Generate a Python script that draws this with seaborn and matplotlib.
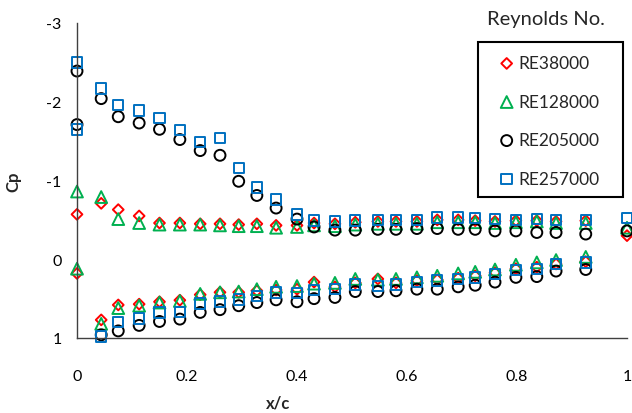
import matplotlib
matplotlib.use("Agg")
import matplotlib.pyplot as plt
import matplotlib.patches as mpatches
import seaborn as sns
import pandas as pd
from matplotlib.ticker import FixedLocator, FuncFormatter

# Pressure tap chord positions (upper surface includes trailing edge tap)
x_upper = [0.0, 0.044, 0.075, 0.113, 0.150, 0.187, 0.224, 0.260, 0.294, 0.327,
           0.362, 0.400, 0.431, 0.469, 0.506, 0.547, 0.580, 0.618, 0.655, 0.693,
           0.724, 0.760, 0.798, 0.836, 0.871, 0.925, 1.0]
x_lower = [0.0, 0.044, 0.075, 0.113, 0.150, 0.187, 0.224, 0.260, 0.294, 0.327,
           0.362, 0.400, 0.431, 0.469, 0.506, 0.547, 0.580, 0.618, 0.655, 0.693,
           0.724, 0.760, 0.798, 0.836, 0.871, 0.925]

series = ["RE38000", "RE128000", "RE205000", "RE257000"]

cp_upper = {
    "RE38000": [-0.57, -0.71, -0.63, -0.55, -0.46, -0.46, -0.45, -0.45, -0.44, -0.45,
                -0.43, -0.43, -0.46, -0.45, -0.47, -0.48, -0.48, -0.48, -0.50, -0.50,
                -0.49, -0.48, -0.49, -0.49, -0.48, -0.49, -0.30],
    "RE128000": [-0.86, -0.79, -0.51, -0.46, -0.44, -0.44, -0.44, -0.43, -0.42, -0.42,
                 -0.40, -0.41, -0.43, -0.42, -0.44, -0.45, -0.45, -0.45, -0.47, -0.47,
                 -0.47, -0.46, -0.47, -0.48, -0.46, -0.46, -0.40],
    "RE205000": [-2.39, -2.04, -1.81, -1.73, -1.65, -1.52, -1.38, -1.32, -0.99, -0.81,
                 -0.65, -0.51, -0.41, -0.37, -0.37, -0.38, -0.38, -0.39, -0.39, -0.38,
                 -0.38, -0.36, -0.36, -0.34, -0.34, -0.32, -0.36],
    "RE257000": [-2.50, -2.17, -1.96, -1.89, -1.79, -1.64, -1.49, -1.54, -1.16, -0.91,
                 -0.76, -0.57, -0.49, -0.48, -0.49, -0.50, -0.50, -0.50, -0.53, -0.53,
                 -0.52, -0.51, -0.50, -0.51, -0.50, -0.50, -0.52],
}
cp_lower = {
    "RE38000": [0.18, 0.77, 0.58, 0.57, 0.54, 0.52, 0.45, 0.42, 0.42, 0.40,
                0.39, 0.38, 0.29, 0.35, 0.30, 0.25, 0.30, 0.27, 0.26, 0.24,
                0.21, 0.17, 0.12, 0.10, 0.06, 0.03],
    "RE128000": [0.12, 0.82, 0.62, 0.59, 0.55, 0.53, 0.44, 0.42, 0.41, 0.38,
                 0.35, 0.34, 0.31, 0.30, 0.25, 0.26, 0.25, 0.23, 0.21, 0.18,
                 0.16, 0.13, 0.07, 0.04, 0.01, -0.03],
    "RE205000": [-1.71, 0.96, 0.91, 0.84, 0.79, 0.76, 0.675, 0.64, 0.59, 0.55,
                 0.515, 0.54, 0.50, 0.485, 0.41, 0.41, 0.40, 0.38, 0.38, 0.35,
                 0.33, 0.29, 0.23, 0.22, 0.15, 0.13],
    "RE257000": [-1.65, 0.98, 0.80, 0.75, 0.675, 0.67, 0.56, 0.535, 0.51, 0.47,
                 0.42, 0.43, 0.39, 0.38, 0.32, 0.34, 0.32, 0.29, 0.27, 0.25,
                 0.23, 0.19, 0.135, 0.12, 0.06, 0.04],
}

x_ticks = [0, 0.2, 0.4, 0.6, 0.8, 1]
y_ticks = [-3, -2, -1, 0, 1]

colors = {"RE38000": "#FF0000", "RE128000": "#00B050",
          "RE205000": "#000000", "RE257000": "#0070C0"}
markers = {"RE38000": "D", "RE128000": "^", "RE205000": "o", "RE257000": "s"}
sizes = {"RE38000": 30, "RE128000": 72, "RE205000": 62, "RE257000": 56}

rows = []
for name in series:
    for xv, cv in zip(x_upper, cp_upper[name]):
        rows.append({"x/c": xv, "Cp": cv, "Reynolds": name})
    for xv, cv in zip(x_lower, cp_lower[name]):
        rows.append({"x/c": xv, "Cp": cv, "Reynolds": name})
df = pd.DataFrame(rows)

sns.set_style("white")
plt.rcParams["font.family"] = ["Lato", "DejaVu Sans"]
plt.rcParams["axes.unicode_minus"] = False

W, H = 632, 414
fig = plt.figure(figsize=(W / 100, H / 100), dpi=100)
ax = fig.add_axes([77 / W, 1 - 339 / H, 550 / W, 315 / H])

for name in series:
    sub = df[df["Reynolds"] == name]
    sns.scatterplot(data=sub, x="x/c", y="Cp", marker=markers[name], s=sizes[name],
                    facecolor="none", edgecolor=colors[name], linewidth=1.4,
                    label=name, clip_on=False, ax=ax, legend=False)
    coll = ax.collections[-1]
    coll.set_facecolor("none")
    coll.set_edgecolor(colors[name])
    coll.set_label(name)

ax.set_xlim(0, 1)
ax.set_ylim(1, -3)
ax.xaxis.set_major_locator(FixedLocator(x_ticks))
ax.yaxis.set_major_locator(FixedLocator(y_ticks))
ax.xaxis.set_major_formatter(FuncFormatter(lambda v, p: f"{v:g}"))
ax.yaxis.set_major_formatter(FuncFormatter(lambda v, p: f"{v:g}"))

for side in ["top", "right"]:
    ax.spines[side].set_visible(False)
for side in ["left", "bottom"]:
    ax.spines[side].set_color("#404040")
    ax.spines[side].set_linewidth(1.0)

ax.tick_params(axis="x", direction="in", length=5, width=1.0, color="#404040",
               pad=22, labelsize=11.5, labelcolor="#000000")
ax.tick_params(axis="y", direction="out", length=5, width=1.0, color="#404040",
               pad=6, labelsize=11.5, labelcolor="#000000")
ax.set_xlabel("")
ax.set_ylabel("")

fig.text(278 / W, 1 - 404 / H, "x/c", ha="center", va="center",
         fontsize=12, fontweight="bold")
fig.text(13 / W, 1 - 182 / H, "Cp", ha="center", va="center",
         rotation=90, fontsize=12, fontweight="bold")

# Legend entries without frame, boxed by a separate rectangle
leg = ax.legend(loc="upper left", bbox_to_anchor=(498 / W, 1 - 56 / H),
                bbox_transform=fig.transFigure, borderaxespad=0, borderpad=0,
                frameon=False, fontsize=12.5, handlelength=1.0,
                handletextpad=0.2, labelspacing=1.3)
fig.add_artist(mpatches.Rectangle((478 / W, 1 - 198 / H), 145 / W, 155 / H,
                                  transform=fig.transFigure, fill=False,
                                  edgecolor="black", linewidth=1.5))
fig.text(546 / W, 1 - 19 / H, "Reynolds No.", ha="center", va="center",
         fontsize=14.5)

fig.savefig("out.png", dpi=100)
